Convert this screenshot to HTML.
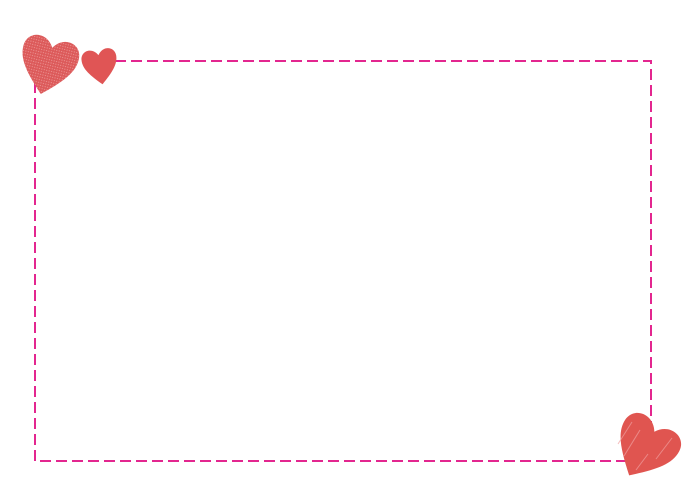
<!DOCTYPE html>
<html><head><meta charset="utf-8"><style>
html,body{margin:0;padding:0;background:#fff;width:700px;height:500px;overflow:hidden}
</style></head><body>
<svg width="700" height="500" viewBox="0 0 700 500" xmlns="http://www.w3.org/2000/svg">
<defs>
<path id="h" d="M50,94 C22,70 3,52 4,30 C5,8 36,2 50,24 C64,2 95,8 96,30 C97,52 78,70 50,94Z"/>
<pattern id="dots" width="4" height="4" patternUnits="userSpaceOnUse">
<rect width="4" height="4" fill="#dc5a5a"/><circle cx="2" cy="2" r="0.8" fill="#f1a4a4"/>
</pattern>
</defs>
<rect x="35" y="61" width="616" height="400" fill="none" stroke="#e3268f" stroke-width="2" stroke-dasharray="11 5"/>
<g transform="translate(48,65) rotate(14) scale(0.62,0.68) translate(-50,-50)"><use href="#h" fill="url(#dots)"/></g>
<g transform="translate(100,66) rotate(-8) scale(0.38,0.42) translate(-50,-50)"><use href="#h" fill="#e05555"/></g>
<g transform="translate(645,448) rotate(30) scale(0.68,0.72) translate(-50,-50)"><use href="#h" fill="#e05550"/></g>
<g stroke="#f0a0a0" stroke-width="1" opacity="0.7">
<line x1="618" y1="444" x2="632" y2="422"/><line x1="624" y1="456" x2="640" y2="430"/>
<line x1="656" y1="459" x2="672" y2="438"/><line x1="636" y1="470" x2="648" y2="454"/>
</g>
</svg>
</body></html>
